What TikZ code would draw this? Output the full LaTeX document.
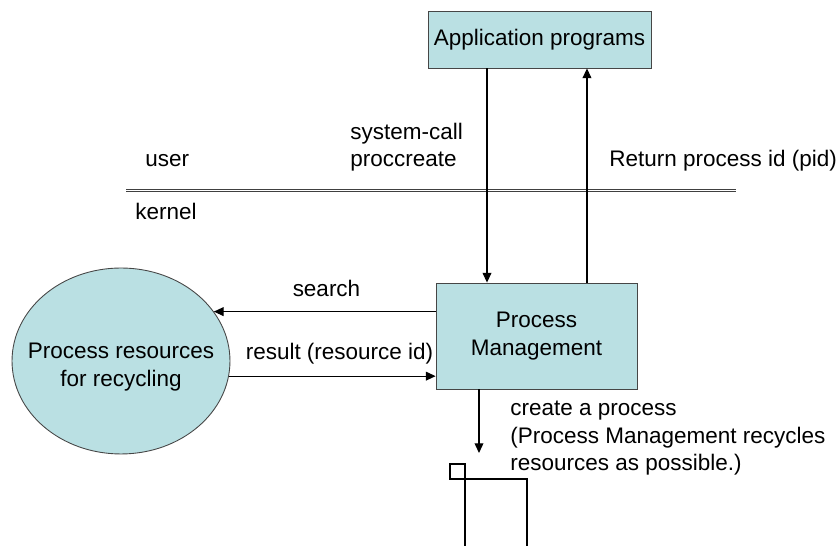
\documentclass[tikz,border=0pt]{standalone}
\usepackage{fontspec}
\setmainfont{Liberation Sans}
\usetikzlibrary{positioning, arrows.meta, shapes.geometric, calc}
\definecolor{Cajacolor}{RGB}{186,224,227}
\definecolor{Bordecolor}{RGB}{70,70,70}

\begin{document}
\begin{tikzpicture}[x=0.02cm, y=-0.02cm,
    every node/.style={font=\fontsize{12.8}{15.7}\selectfont},
    box/.style={rectangle, draw=Bordecolor, fill=Cajacolor,
                line width=0.5pt, align=center, inner sep=2pt},
    pool/.style={ellipse, draw=Bordecolor, fill=Cajacolor,
                line width=0.5pt, align=center, inner sep=0pt,
                minimum width=4.36cm, minimum height=3.72cm},
    lab/.style={align=left, inner sep=0pt},
    arr/.style={-{Triangle[length=5.5pt, width=5pt]}, line width=0.6pt},
    sep/.style={double=white, double distance=0.85pt,
                line width=0.45pt, draw=black!75},
    slot/.style={line width=1.1pt}]

  \useasboundingbox (0,0) rectangle (840,546);

  %--- Frontera user / kernel ---
  \draw[sep] (126,190.5) -- (736,190.5);
  \node[lab, anchor=base west] (usr) at (145,167) {user};
  \node[lab, anchor=base west] (krn) at (135,220) {kernel};

  %--- Cajas ---
  \node[box, minimum width=4.46cm, minimum height=1.14cm] (app) at (539.5,39.5) {Application programs};
  \node[box, minimum width=4.02cm, minimum height=2.12cm] (pm)  at (536.5,336)  {Process\\Management};
  \node[pool, label={[lab, align=center, yshift=-0.12cm]center:{Process resources\\for recycling}}]
    (res) at (121,361) {};

  %--- Llamada y retorno ---
  \draw[arr] ([xshift=-1.05cm]app.south) -- ([xshift=-1.05cm]app.south |- pm.north);
  \draw[arr] ([xshift=0.95cm]app.south |- pm.north) -- ([xshift=0.95cm]app.south);
  \node[lab, anchor=base west] (sys) at (350,167) {system-call\\proccreate};
  \node[lab, anchor=base west] (ret) at (609,167) {Return process id (pid)};

  %--- Busqueda de recursos ---
  \draw[arr] (pm.west |- res.28.5) -- (res.28.5);
  \draw[arr] (res.-8) -- (pm.west |- res.-8);
  \node[lab, anchor=base] (srl) at (326.5,297) {search};
  \node[lab, anchor=base] (rsl) at (339.5,360) {result (resource id)};

  %--- Nuevo proceso ---
  \coordinate (nuevo) at (479,453);
  \draw[arr] (pm.south -| nuevo) -- (nuevo);
  \node[lab, anchor=base west] (crt) at (510,471)
    {create a process\\(Process Management recycles\\resources as possible.)};
  \draw[slot] (450,464) rectangle (465,479);
  \draw[slot] (465,546) -- (465,479) -- (527,479) -- (527,546);
\end{tikzpicture}
\end{document}
